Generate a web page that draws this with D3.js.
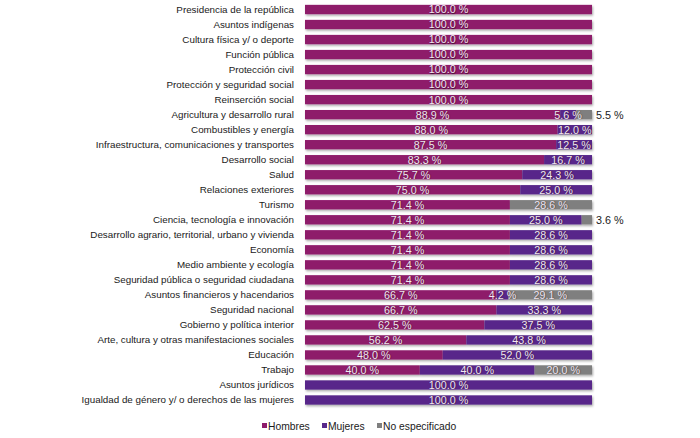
<!DOCTYPE html>
<html>
<head>
<meta charset="utf-8">
<script src="https://cdn.jsdelivr.net/npm/d3@7"></script>
<style>
  body { margin: 0; background: #fff; }
  text { font-family: "Liberation Sans", Arial, sans-serif; }
</style>
</head>
<body>
<div id="chart"></div>
<script>
var categories = [
    'Presidencia de la república',
    'Asuntos indígenas',
    'Cultura física y/ o deporte',
    'Función pública',
    'Protección civil',
    'Protección y seguridad social',
    'Reinserción social',
    'Agricultura y desarrollo rural',
    'Combustibles y energía',
    'Infraestructura, comunicaciones y transportes',
    'Desarrollo social',
    'Salud',
    'Relaciones exteriores',
    'Turismo',
    'Ciencia, tecnología e innovación',
    'Desarrollo agrario, territorial, urbano y vivienda',
    'Economía',
    'Medio ambiente y ecología',
    'Seguridad pública o seguridad ciudadana',
    'Asuntos financieros y hacendarios',
    'Seguridad nacional',
    'Gobierno y política interior',
    'Arte, cultura y otras manifestaciones sociales',
    'Educación',
    'Trabajo',
    'Asuntos jurídicos',
    'Igualdad de género y/ o derechos de las mujeres'
];
var hombres = [100, 100, 100, 100, 100, 100, 100, 88.9, 88.0, 87.5, 83.3, 75.7, 75.0, 71.4, 71.4,
               71.4, 71.4, 71.4, 71.4, 66.7, 66.7, 62.5, 56.2, 48.0, 40.0, 0, 0];
var mujeres = [0, 0, 0, 0, 0, 0, 0, 5.6, 12.0, 12.5, 16.7, 24.3, 25.0, 0, 25.0,
               28.6, 28.6, 28.6, 28.6, 4.2, 33.3, 37.5, 43.8, 52.0, 40.0, 100, 100];
var noEsp   = [0, 0, 0, 0, 0, 0, 0, 5.5, 0, 0, 0, 0, 0, 28.6, 3.6,
               0, 0, 0, 0, 29.1, 0, 0, 0, 0, 20.0, 0, 0];
var seriesNames  = ['Hombres', 'Mujeres', 'No especificado'];
var seriesColors = ['#8e1b6b', '#58288a', '#7f7f7f'];

var chart_width  = 700;
var chart_height = 438;

var rows = categories.map(function(c, i) {
    return { cat: c, Hombres: hombres[i], Mujeres: mujeres[i], 'No especificado': noEsp[i] };
});

var svg = d3.select('#chart')
    .append('svg')
    .attr('width', chart_width)
    .attr('height', chart_height);

// bar shadow
var filter = svg.append('defs').append('filter')
    .attr('id', 'shadow')
    .attr('x', '-5%').attr('y', '-30%')
    .attr('width', '110%').attr('height', '190%');
filter.append('feDropShadow')
    .attr('dx', 1).attr('dy', 1.5)
    .attr('stdDeviation', 0.8)
    .attr('flood-color', '#000')
    .attr('flood-opacity', 0.35);

var x_scale = d3.scaleLinear()
    .domain([0, 100])
    .range([305, 592]);

var y_scale = d3.scaleBand()
    .domain(categories)
    .range([2, 407.5])
    .paddingInner(0.38)
    .paddingOuter(0.19);

var stack = d3.stack().keys(seriesNames)(rows);

// Category labels
svg.append('g')
    .selectAll('text')
    .data(categories)
    .enter()
    .append('text')
    .attr('x', 294)
    .attr('y', function(d) { return y_scale(d) + y_scale.bandwidth() / 2; })
    .attr('dy', '0.35em')
    .attr('text-anchor', 'end')
    .attr('font-size', 9.8)
    .attr('fill', '#1a1a1a')
    .text(function(d) { return d; });

// Bars
var layers = svg.append('g')
    .attr('filter', 'url(#shadow)')
    .selectAll('g')
    .data(stack)
    .enter()
    .append('g')
    .attr('fill', function(d, i) { return seriesColors[i]; });

layers.selectAll('rect')
    .data(function(d) { return d; })
    .enter()
    .filter(function(d) { return d[1] - d[0] > 0; })
    .append('rect')
    .attr('x', function(d) { return x_scale(d[0]); })
    .attr('y', function(d) { return y_scale(d.data.cat); })
    .attr('width', function(d) { return x_scale(d[1]) - x_scale(d[0]); })
    .attr('height', y_scale.bandwidth());

// Value labels
var fmt = function(v) { return v.toFixed(1) + ' %'; };
var labels = svg.append('g');
stack.forEach(function(layer) {
    layer.forEach(function(d) {
        var v = d[1] - d[0];
        if (v <= 0) return;
        var cy = y_scale(d.data.cat) + y_scale.bandwidth() / 2;
        var outside = layer.key === 'No especificado' && v < 10;
        var t = labels.append('text')
            .attr('y', cy)
            .attr('dy', '0.36em')
            .attr('font-size', 10.8)
            .text(fmt(v));
        if (outside) {
            t.attr('x', x_scale(100) + 4)
                .attr('fill', '#1a1a1a');
        } else {
            t.attr('x', (x_scale(d[0]) + x_scale(d[1])) / 2)
                .attr('text-anchor', 'middle')
                .attr('fill', '#f3e6f2')
                .style('text-shadow', '0.5px 0.5px 1px rgba(0,0,0,0.6)');
        }
    });
});

// Legend
var legendX = [262, 322, 377];
var legend = svg.append('g')
    .selectAll('g')
    .data(seriesNames)
    .enter()
    .append('g')
    .attr('transform', function(d, i) { return 'translate(' + legendX[i] + ',426)'; });
legend.append('rect')
    .attr('x', 0).attr('y', -3)
    .attr('width', 5).attr('height', 5)
    .attr('fill', function(d, i) { return seriesColors[i]; });
legend.append('text')
    .attr('x', 6)
    .attr('dy', '0.35em')
    .attr('font-size', 10.3)
    .attr('fill', '#1a1a1a')
    .text(function(d) { return d; });
</script>
</body>
</html>
